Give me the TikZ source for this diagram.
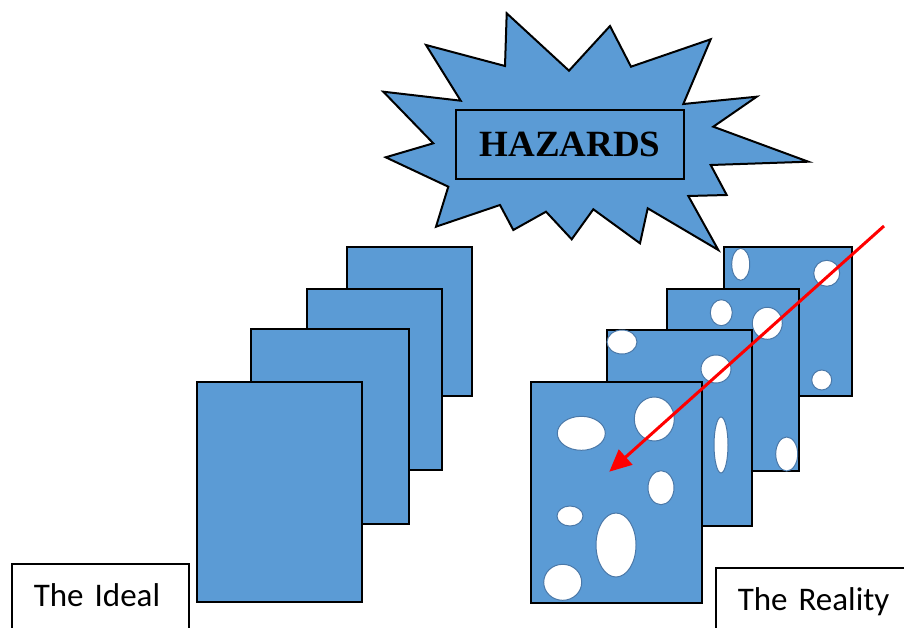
\documentclass[tikz,border=0pt]{standalone}
\usepackage{fontspec}
\setmainfont{Liberation Serif}
\newfontfamily\labelfont{Carlito}
\usepackage{tikz}
\usetikzlibrary{arrows.meta}
\definecolor{sheetblue}{HTML}{5B9BD5}
\definecolor{holeedge}{HTML}{4A78A8}

\begin{document}
\begin{tikzpicture}[x=1pt,y=-1pt]
    \tikzstyle{sheet}=[draw,fill=sheetblue,line width=2pt,inner sep=0pt]
    \tikzstyle{hole}=[fill=white,draw=holeedge,line width=1pt]
    \tikzstyle{namebox}=[draw,fill=white,line width=1.6pt,anchor=north west,inner xsep=22pt,inner ysep=21pt,
                         text height=22pt,text depth=60pt,align=left,font=\labelfont\fontsize{33}{36}\selectfont]
    \useasboundingbox (0,0) rectangle (904,628);
    \clip (0,0) rectangle (904,628);
      % the hazard burst
      \draw[fill=sheetblue,line width=2pt,line join=miter]
        (506.7,13.3) -- (569,70.7) -- (610,26) -- (631,66.7) -- (710.7,39.3) -- (683.3,104)
        -- (756.7,96.7) -- (713.3,126.7) -- (808.3,161.7) -- (710.7,165) -- (726.7,195)
        -- (688.3,196) -- (718.3,250) -- (647.7,208.3) -- (640,243.3) -- (593.3,209.3)
        -- (571.7,239.3) -- (546,211.7) -- (513.3,230) -- (500,205) -- (436,226.7)
        -- (448.3,186.7) -- (385.7,157.3) -- (433.3,143.3) -- (383.3,91.7) -- (460.7,100.7)
        -- (426,45) -- (505,66) -- cycle;
      \node[draw,line width=2pt,minimum width=228pt,minimum height=69pt,inner sep=0pt,
            font=\bfseries\fontsize{37}{40}\selectfont] (H) at (570,144.5) {HAZARDS};
      % the ideal
      \node[sheet,minimum width=125pt,minimum height=149pt] (I_4) at (409.5,321.5) {};
      \node[sheet,minimum width=135pt,minimum height=181pt] (I_3) at (374.5,379.5) {};
      \node[sheet,minimum width=158pt,minimum height=195pt] (I_2) at (330,426.5)   {};
      \node[sheet,minimum width=165pt,minimum height=220pt] (I_1) at (279.5,492)   {};
      % the reality
      \node[sheet,minimum width=128pt,minimum height=149pt] (R_4) at (788,321.5) {};
      \draw[hole] (740.7,264.3) ellipse (9pt and 16pt);
      \draw[hole] (826.7,273.3) ellipse (13pt and 13pt);
      \draw[hole] (821.7,380) ellipse (10pt and 10pt);
      \node[sheet,minimum width=132pt,minimum height=182pt] (R_3) at (733,380) {};
      \draw[hole] (721.3,312.7) ellipse (11pt and 13pt);
      \draw[hole] (767.3,323.3) ellipse (15pt and 16pt);
      \draw[hole] (786.7,454) ellipse (11pt and 17pt);
      \node[sheet,minimum width=145pt,minimum height=196pt] (R_2) at (679.5,428) {};
      \draw[hole] (622,342) ellipse (15pt and 12pt);
      \draw[hole] (716,369) ellipse (15pt and 14pt);
      \draw[hole] (721,445) ellipse (7pt and 28pt);
      \node[sheet,minimum width=171pt,minimum height=221pt] (R_1) at (616.5,492.5) {};
      \draw[hole] (581.3,433.3) ellipse (24pt and 17pt);
      \draw[hole] (654.3,419) ellipse (20pt and 22pt);
      \draw[hole] (661,487.7) ellipse (13pt and 17pt);
      \draw[hole] (570,516) ellipse (13pt and 10pt);
      \draw[hole] (616,545) ellipse (20pt and 32pt);
      \draw[hole] (562.7,582.3) ellipse (19pt and 18pt);
      % the hit
      \coordinate (src) at (884,226);
      \coordinate (dst) at (609.3,471.7);
      \draw[red,line width=3pt,-{Triangle[length=22pt,width=20pt]}] (src) -- (dst);
      % captions
      \node[namebox,text width=133pt] (ideal) at (11,563) {The Ideal};
      \node[namebox,text width=200pt] (reality) at (715,567) {The Reality};
\end{tikzpicture}
\end{document}
